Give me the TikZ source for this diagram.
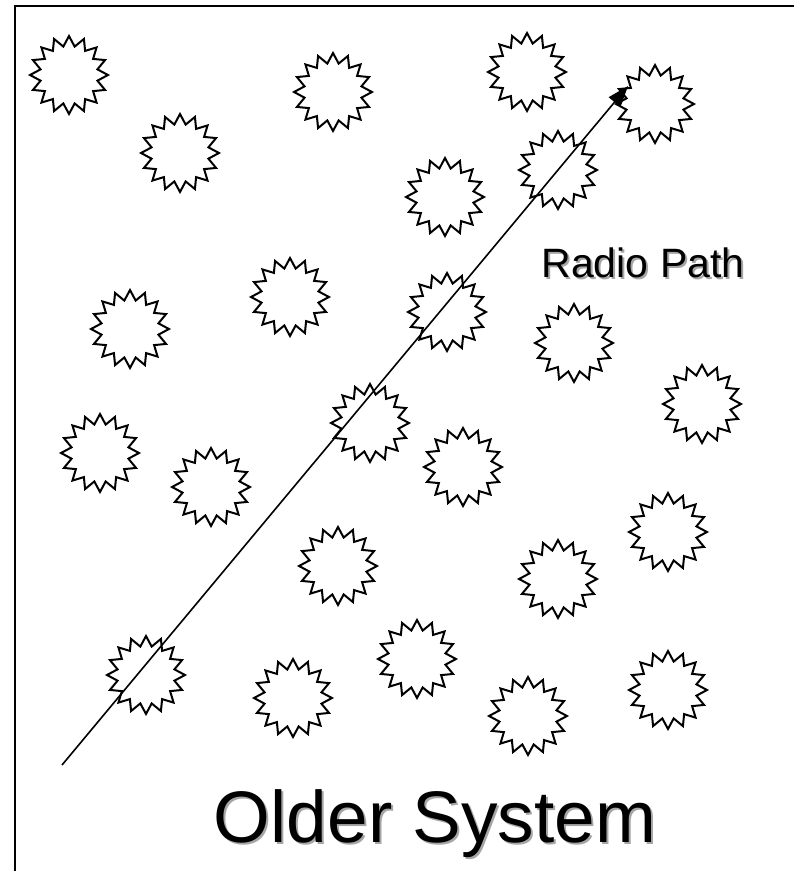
\documentclass[tikz,border=0pt]{standalone}
\usepackage{fontspec}
\setmainfont{Liberation Sans}
\usetikzlibrary{arrows.meta}

% sixteen-point burst, used for every scatterer
\newcommand{\burst}[2]{%
  \draw[burst line, shift={(#1,#2)}]
    plot[samples at={0,...,31}] ({\x*11.25+90}:{ifthenelse(mod(\x,2)==0,39,29)}) -- cycle;}

\tikzset{
  burst line/.style={black, line width=2pt, line join=miter, fill=white},
  frame line/.style={black, line width=2pt},
  path line/.style={black, line width=1.6pt, -{Triangle[length=21pt,width=15pt]}},
  shadow text/.style={text=black!35},
}

\begin{document}
\begin{tikzpicture}[x=1pt,y=-1pt]
    \useasboundingbox (0,0) rectangle (794,871);
    \fill[white] (0,0) rectangle (794,871);
    \draw[frame line] (15,872) -- (15,6) -- (795,6);

    % scatterers
    \foreach \bx/\by in {69/75, 180/153, 333/92, 527/72, 655/104, 558/170,
                         445/197, 290/297, 447/312, 130/329, 574/343, 702/404,
                         370/423, 100/453, 211/487, 463/467, 668/532, 338/566,
                         558/579, 146/675, 417/659, 293/698, 528/716, 668/690}
        {\burst{\bx}{\by}}

    % radio path
    \coordinate (src) at (62,765);
    \coordinate (dst) at (628,86);
    \draw[path line] (src) -- (dst);

    % labels
    \node[shadow text, font=\fontsize{41}{41}\selectfont] (radioshadow) at (645,265) {Radio Path};
    \node[font=\fontsize{41}{41}\selectfont] (radio) at (643,263) {Radio Path};
    \node[shadow text, font=\fontsize{73}{73}\selectfont] (oldershadow) at (437,826) {Older System};
    \node[font=\fontsize{73}{73}\selectfont] (older) at (435,824) {Older System};
\end{tikzpicture}
\end{document}
